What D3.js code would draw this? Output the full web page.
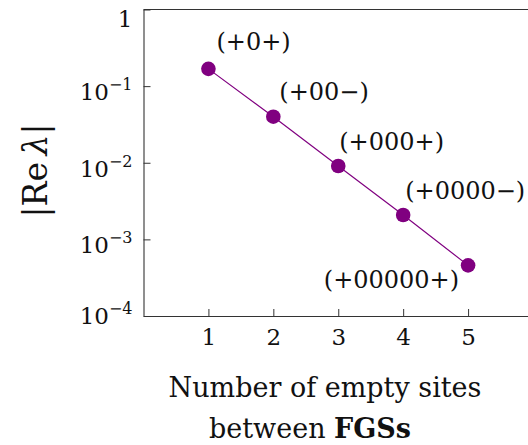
<!DOCTYPE html>
<html>
<head>
<meta charset="utf-8">
<script src="https://cdn.jsdelivr.net/npm/d3@7"></script>
<style>
  html, body { margin: 0; padding: 0; background: #fff; }
  svg { display: block; }
  text { font-family: "DejaVu Serif", serif; fill: #111; }
</style>
</head>
<body>
<div id="chart"></div>
<script>
// number of empty sites between the FGSs
const emptySites = [1, 2, 3, 4, 5]
// |Re lambda|
const reLambda = [0.168, 0.0399, 0.00906, 0.00208, 0.000458]
// configuration label next to each point
const stateLabels = ["(+0+)", "(+00\u2212)", "(+000+)", "(+0000\u2212)", "(+00000+)"]

// tick values and their printed form
const xTicks = [1, 2, 3, 4, 5]
const yTicks = [1, 1e-1, 1e-2, 1e-3, 1e-4]
const yTickExponents = ["", "\u22121", "\u22122", "\u22123", "\u22124"]

// layout only: baseline shift of each y tick label, and label placement [dx, dy, anchor]
const yLabelDy = [17, 13.5, 13.5, 13.5, 7]
const labelPlace = [[8, -19, "start"], [6, -17, "start"], [1, -16, "start"], [2, -16, "start"], [-9, 23, "end"]]

const width = 528
const height = 445
const purple = "#800080"
const axisColor = "#333"

const svg = d3.select("#chart")
    .append("svg")
    .attr("width", width)
    .attr("height", height)

// x runs 0..6, the right part is cut off by the picture edge
const x = d3.scaleLinear()
    .domain([0, 6])
    .range([143.5, 533])

const y = d3.scaleLog()
    .domain([1e-4, 1])
    .range([316, 9.5])

// frame top + right
svg.append("path")
    .attr("d", `M${x(0)},${y(1)}H${x(6)}V${y(1e-4)}`)
    .attr("fill", "none")
    .attr("stroke", axisColor)
    .attr("stroke-width", 1.1)

// x axis, ticks pointing inward
const xAxis = svg.append("g")
    .attr("transform", `translate(0,${y(1e-4)})`)
    .call(d3.axisBottom(x).tickValues(xTicks).tickFormat(d3.format("d"))
        .tickSize(-7).tickSizeOuter(0).tickPadding(0))
xAxis.select(".domain").attr("stroke", axisColor).attr("stroke-width", 1.1)
xAxis.selectAll(".tick line").attr("stroke", axisColor)
xAxis.selectAll(".tick text")
    .attr("y", 29)
    .attr("dy", 0)
    .style("font-family", "\"DejaVu Serif\", serif")
    .style("font-size", "23px")
    .attr("fill", "#111")

// y axis, labels as 10^n
const yAxis = svg.append("g")
    .attr("transform", `translate(${x(0)},0)`)
    .call(d3.axisLeft(y).tickValues(yTicks).tickSize(-7).tickSizeOuter(0).tickFormat(() => ""))
yAxis.select(".domain").attr("stroke", axisColor).attr("stroke-width", 1.1)
yAxis.selectAll(".tick line").attr("stroke", axisColor)
yAxis.selectAll(".tick text").each(function (d, i) {
    const t = d3.select(this)
        .attr("x", -11)
        .attr("y", yLabelDy[i])
        .attr("dy", 0)
        .attr("text-anchor", "end")
        .style("font-family", "\"DejaVu Serif\", serif")
        .style("font-size", "23px")
        .attr("fill", "#111")
    if (yTickExponents[i] === "") {
        t.text("1")
    } else {
        t.append("tspan").text("10")
        t.append("tspan")
            .attr("dy", -10)
            .style("font-size", "16px")
            .text(yTickExponents[i])
    }
})

// the data line and its markers
const points = emptySites.map((s, i) => ({s: s, v: reLambda[i], label: stateLabels[i]}))

svg.append("path")
    .datum(points)
    .attr("fill", "none")
    .attr("stroke", purple)
    .attr("stroke-width", 1.2)
    .attr("d", d3.line().x(d => x(d.s)).y(d => y(d.v)))

svg.selectAll("circle.pt")
    .data(points)
    .join("circle")
    .attr("class", "pt")
    .attr("cx", d => x(d.s))
    .attr("cy", d => y(d.v))
    .attr("r", 7.3)
    .attr("fill", purple)

// configuration labels
svg.selectAll("text.state")
    .data(points)
    .join("text")
    .attr("class", "state")
    .attr("x", (d, i) => x(d.s) + labelPlace[i][0])
    .attr("y", (d, i) => y(d.v) + labelPlace[i][1])
    .attr("text-anchor", (d, i) => labelPlace[i][2])
    .style("font-size", "24px")
    .text(d => d.label)

// axis titles
const yTitle = svg.append("text")
    .attr("transform", "translate(35,170.5) rotate(-90)")
    .attr("text-anchor", "middle")
    .attr("dominant-baseline", "central")
    .style("font-size", "33px")
yTitle.append("tspan").text("|Re\u2009")
yTitle.append("tspan").style("font-style", "italic").text("\u03bb")
yTitle.append("tspan").text("|")

svg.append("text")
    .attr("x", 325)
    .attr("y", 397)
    .attr("text-anchor", "middle")
    .style("font-size", "27px")
    .text("Number of empty sites")

const line2 = svg.append("text")
    .attr("x", 310)
    .attr("y", 438)
    .attr("text-anchor", "middle")
    .style("font-size", "27px")
line2.append("tspan").text("between ")
line2.append("tspan").style("font-weight", "bold").text("FGSs")
</script>
</body>
</html>
